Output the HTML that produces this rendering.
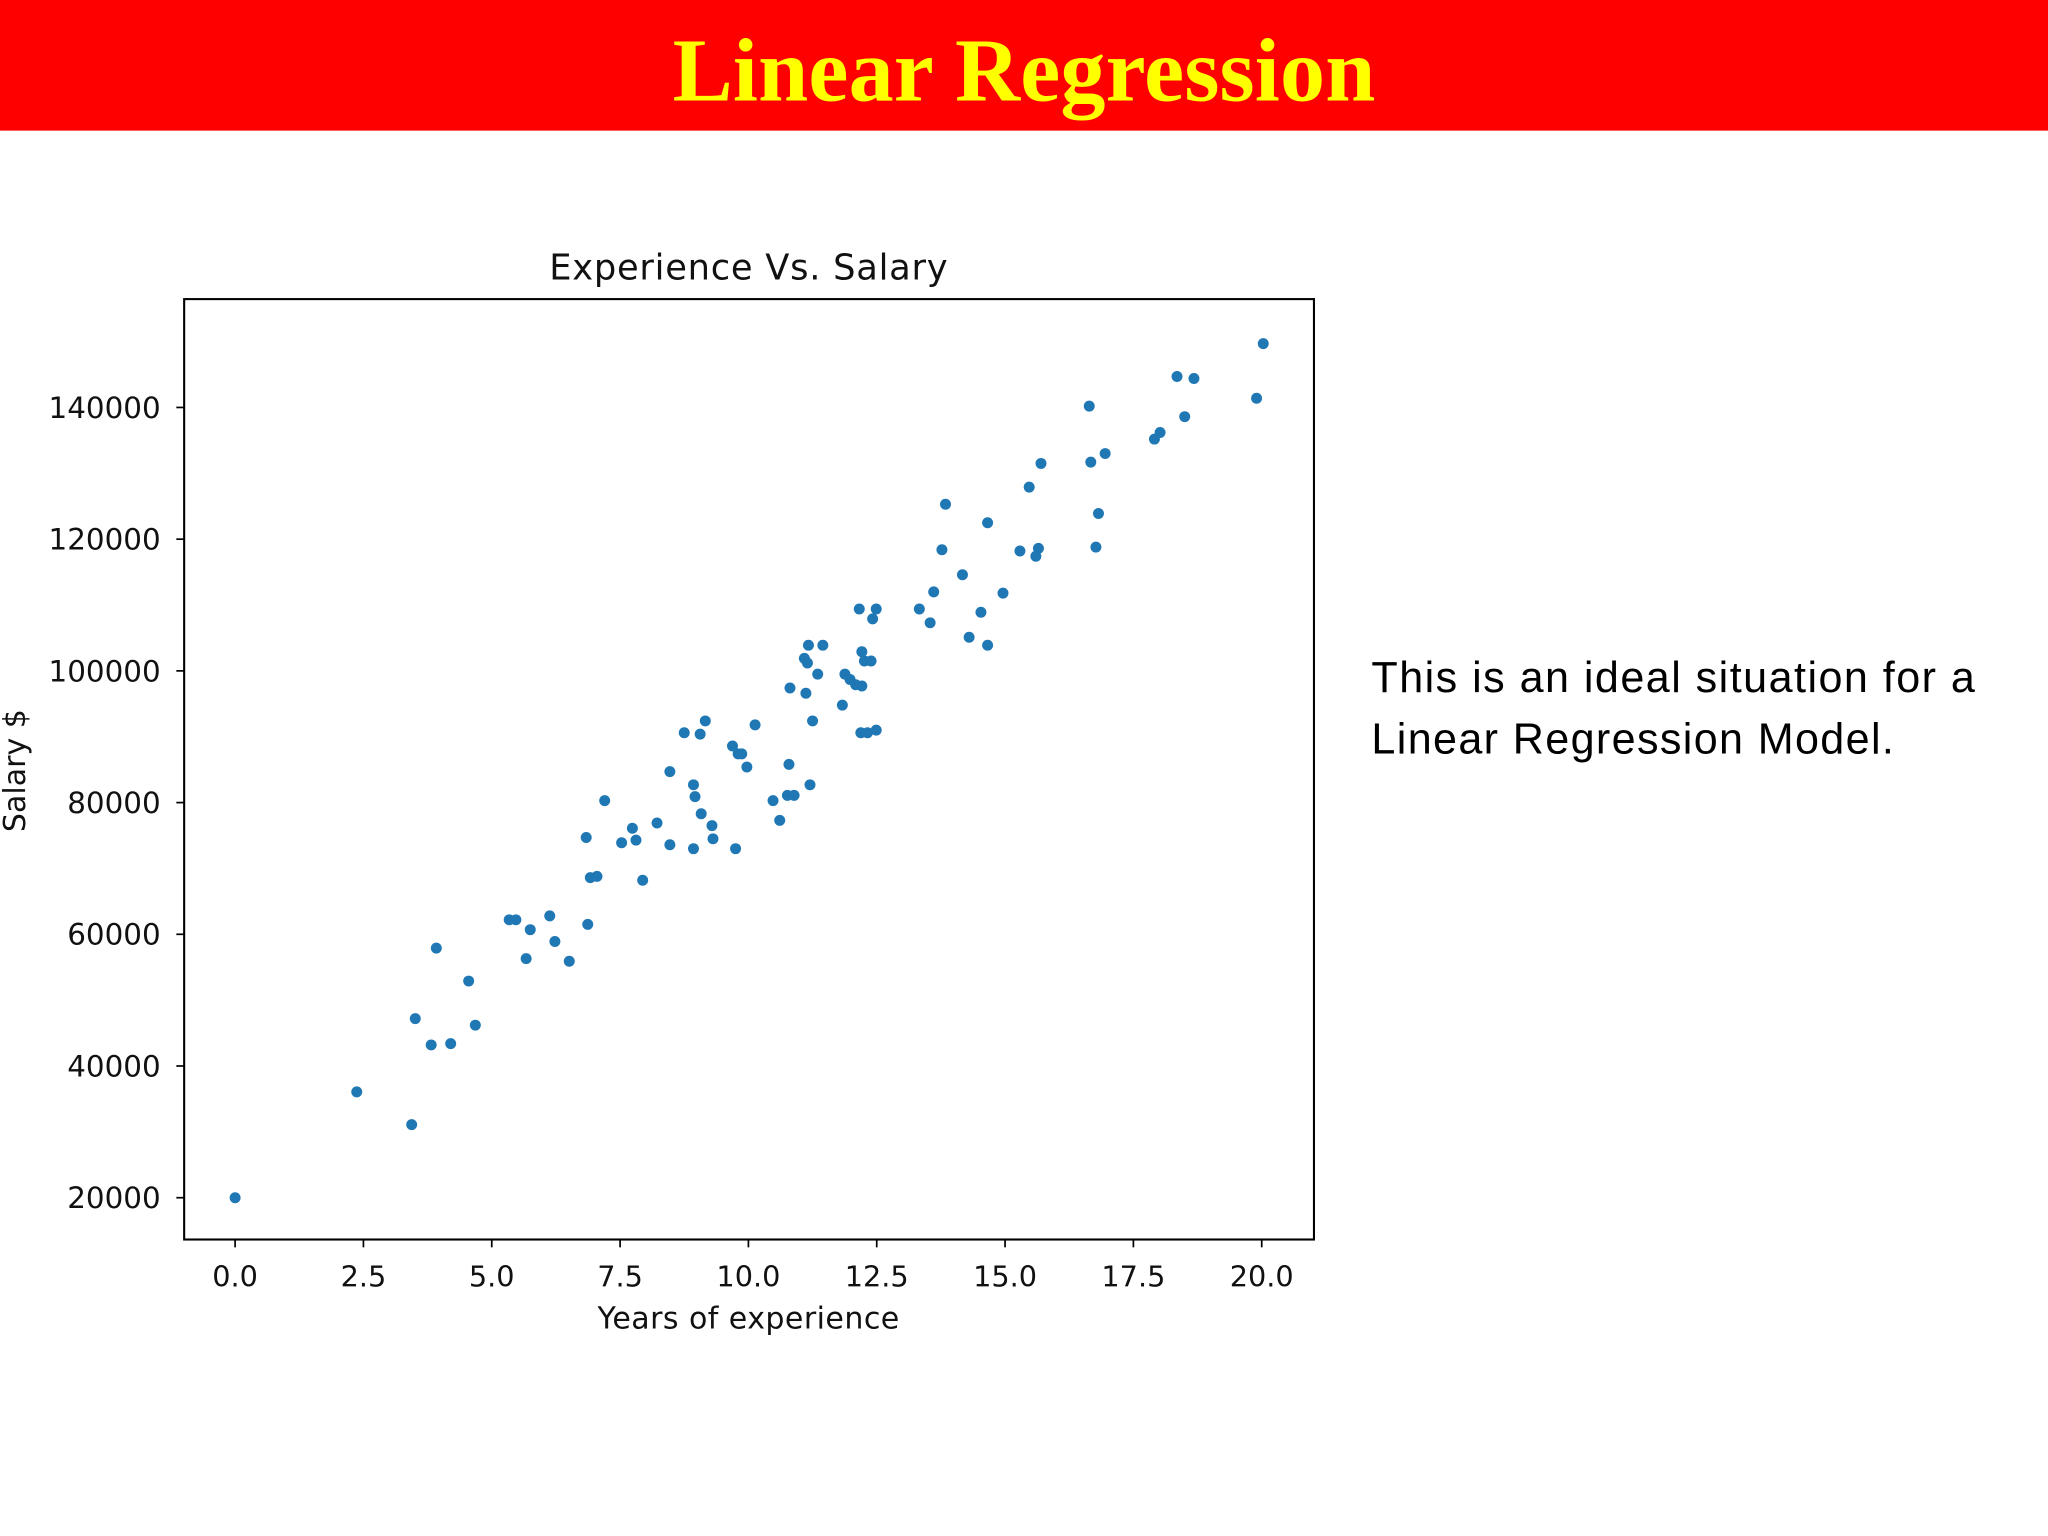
<!DOCTYPE html>
<html><head><meta charset="utf-8"><style>
html,body{margin:0;padding:0;background:#fff;}
svg{display:block;}
</style></head><body>
<svg width="2048" height="1536" viewBox="0 0 1568 1176" xmlns="http://www.w3.org/2000/svg">
<rect x="0" y="0" width="1568" height="100" fill="#ff0000"/>
<text x="784" y="77" text-anchor="middle" font-family="Liberation Serif, serif" font-weight="bold" font-size="69" fill="#ffff00" textLength="538">Linear Regression</text>
<text x="1050" y="530" font-family="Liberation Sans, sans-serif" font-size="33" fill="#000" textLength="462">This is an ideal situation for a</text>
<text x="1050" y="577" font-family="Liberation Sans, sans-serif" font-size="33" fill="#000" textLength="400">Linear Regression Model.</text>
<text x="573" y="214" text-anchor="middle" font-family="DejaVu Sans, sans-serif" font-size="27" fill="#111" textLength="305">Experience Vs. Salary</text>
<g id="plot"></g>
<rect x="141" y="229" width="865" height="720" fill="none" stroke="#000" stroke-width="1.6"/>
<text x="573" y="1017" text-anchor="middle" font-family="DejaVu Sans, sans-serif" font-size="23" fill="#111" textLength="231">Years of experience</text>
<text transform="translate(19,590) rotate(-90)" text-anchor="middle" font-family="DejaVu Sans, sans-serif" font-size="23" fill="#111">Salary $</text>
</svg>
<script>
const years=[0,2.37,3.44,3.51,3.82,3.92,4.2,4.55,4.68,5.34,5.47,5.67,5.75,6.13,6.23,6.51,6.84,6.87,6.92,7.05,7.2,7.53,7.74,7.81,7.94,8.22,8.47,8.47,8.75,8.93,8.96,8.93,9.08,9.16,9.06,9.29,9.31,9.69,9.8,9.87,9.97,9.75,10.13,10.48,10.61,10.79,10.81,10.76,10.89,11.09,11.12,11.15,11.17,11.2,11.25,11.35,11.45,11.83,11.88,11.98,12.09,12.16,12.21,12.21,12.19,12.26,12.32,12.39,12.42,12.49,12.49,13.33,13.54,13.61,13.77,13.84,14.17,14.3,14.53,14.66,14.66,14.96,15.29,15.47,15.6,15.65,15.7,16.64,16.67,16.77,16.82,16.95,17.91,18.02,18.35,18.5,18.68,19.9,20.03];
const salary=[20000,36070,31100,47200,43200,57900,43400,52900,46200,62200,62200,56300,60700,62800,58900,55900,74700,61500,68600,68800,80300,73900,76100,74300,68200,76900,84700,73600,90600,82700,80900,73000,78300,92400,90400,76500,74500,88600,87400,87400,85400,73000,91800,80300,77300,85800,97400,81100,81100,101900,96600,101200,103900,82700,92400,99500,103900,94800,99500,98700,97900,109400,97700,102900,90600,101500,90600,101500,107900,109400,91000,109400,107300,112000,118400,125300,114600,105100,108900,122500,103900,111800,118200,127900,117400,118600,131500,140200,131700,118800,123900,133000,135200,136200,144700,138600,144400,141400,149700];
const xTicks=[0,2.5,5,7.5,10,12.5,15,17.5,20];
const xTickLabels=["0.0","2.5","5.0","7.5","10.0","12.5","15.0","17.5","20.0"];
const yTicks=[20000,40000,60000,80000,100000,120000,140000];
const yTickLabels=["20000","40000","60000","80000","100000","120000","140000"];
const NS="http://www.w3.org/2000/svg";
const sx=v=>180+v*39.3;
const sy=v=>917-(v-20000)*0.005042;
const g=document.getElementById('plot');
function mk(t,a){const e=document.createElementNS(NS,t);for(const k in a)e.setAttribute(k,a[k]);g.appendChild(e);return e;}
xTicks.forEach((t,i)=>{
  const l=mk('line',{x1:sx(t),x2:sx(t),y1:949,y2:955,stroke:'#000','stroke-width':1.3});
  
  
  const tx=mk('text',{x:sx(t),y:985,'text-anchor':'middle','font-family':'DejaVu Sans, sans-serif','font-size':22,fill:'#111'});
  tx.textContent=xTickLabels[i];
  
  
});
yTicks.forEach((t,i)=>{
  const l=mk('line',{x1:135,x2:141,y1:sy(t),y2:sy(t),stroke:'#000','stroke-width':1.3});
  
  
  const tx=mk('text',{x:123,y:sy(t)+8,'text-anchor':'end','font-family':'DejaVu Sans, sans-serif','font-size':22.5,fill:'#111'});
  tx.textContent=yTickLabels[i];
  
  
});
years.forEach((x,i)=>{
  const c=mk('circle',{cx:sx(x),cy:sy(salary[i]),r:4.2,fill:'#1f77b4'});
  
  
});
</script>
</body></html>
